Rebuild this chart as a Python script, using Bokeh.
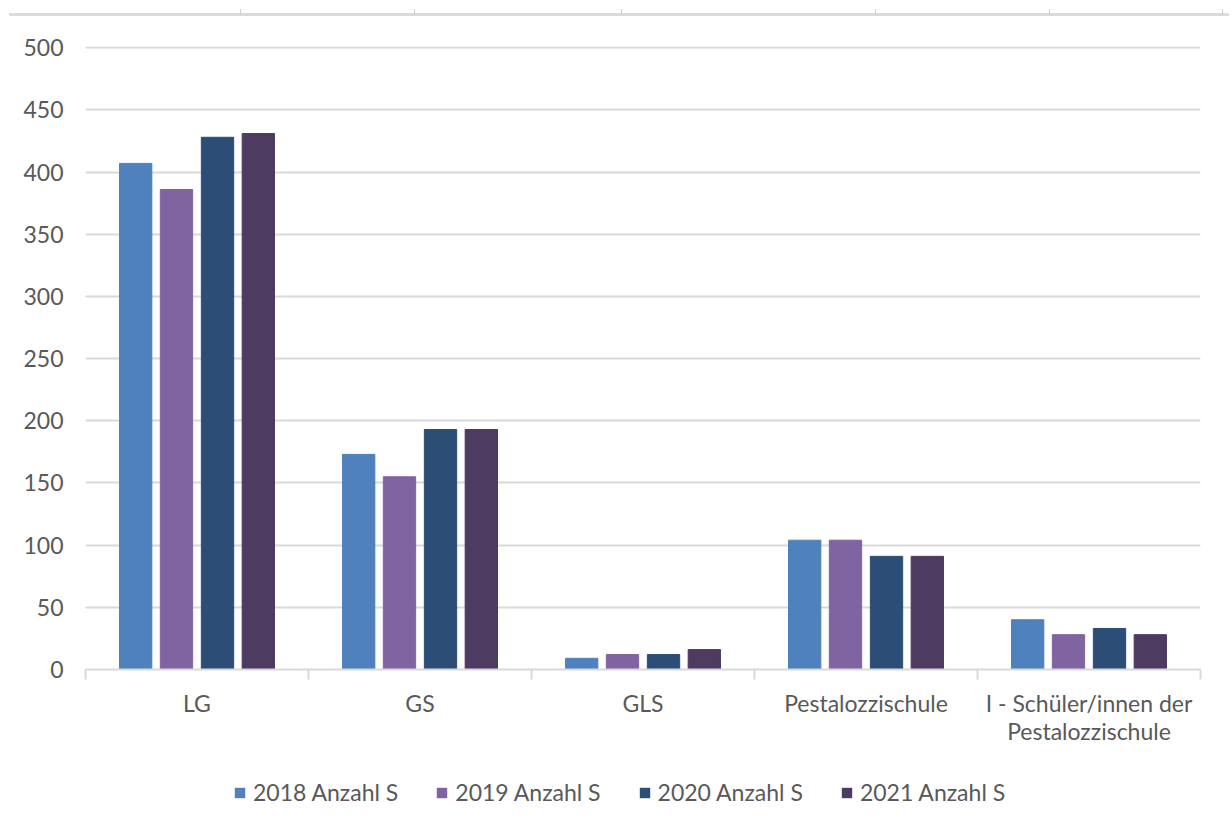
import numpy as np
from bokeh.plotting import figure
from bokeh.models import ColumnDataSource, FixedTicker, Range1d, Legend, LegendItem, Div
from bokeh.layouts import column
from bokeh.embed import file_html
from bokeh.resources import INLINE

categories = ["LG", "GS", "GLS", "Pestalozzischule", "I - Schüler/innen der\nPestalozzischule"]
series = ["2018 Anzahl S", "2019 Anzahl S", "2020 Anzahl S", "2021 Anzahl S"]
v2018 = [407, 173, 9, 104, 40]
v2019 = [386, 155, 12, 104, 28]
v2020 = [428, 193, 12, 91, 33]
v2021 = [431, 193, 16, 91, 28]
values = [v2018, v2019, v2020, v2021]
colors = ["#4F81BD", "#8064A2", "#2C4D75", "#4D3B62"]
y_ticks = [0, 50, 100, 150, 200, 250, 300, 350, 400, 450, 500]

FONT = "Lato"
TXT = "#595959"
GRID = "#D9D9D9"

p = figure(frame_width=1115, frame_height=623, output_backend="svg", toolbar_location=None,
           x_range=Range1d(0, len(categories)), y_range=Range1d(0, 501),
           min_border_left=85, min_border_right=24, min_border_top=28, min_border_bottom=90)
p.outline_line_color = None
p.background_fill_color = "white"
p.border_fill_color = "white"

# separate strip that carries the legend below the chart (its bars lie outside its view)
lg = figure(width=1224, height=62, output_backend="svg", toolbar_location=None,
            x_range=Range1d(-10, -9), y_range=Range1d(1000, 1001),
            x_axis_location=None, y_axis_location=None,
            min_border_left=0, min_border_right=0, min_border_top=0, min_border_bottom=0)
lg.outline_line_color = None
lg.xgrid.visible = False
lg.ygrid.visible = False

offsets = [-0.275, -0.092, 0.092, 0.275]
bar_w = 0.145
centers = np.arange(len(categories)) + 0.5
items = []
for name, vals, col, off in zip(series, values, colors, offsets):
    src = ColumnDataSource(dict(x=centers + off, top=vals))
    p.vbar(x="x", top="top", width=bar_w, bottom=0, source=src,
           fill_color=col, line_color=col, line_width=1)
    r2 = lg.vbar(x="x", top="top", width=bar_w, bottom=0, source=src,
                 fill_color=col, line_color=None)
    items.append(LegendItem(label=name, renderers=[r2]))

# y axis
p.yaxis.ticker = FixedTicker(ticks=y_ticks)
p.yaxis.axis_line_color = None
p.yaxis.major_tick_line_color = None
p.yaxis.minor_tick_line_color = None
p.yaxis.major_tick_out = 0
p.yaxis.major_tick_in = 0
p.yaxis.major_label_standoff = 22
p.yaxis.major_label_text_font = FONT
p.yaxis.major_label_text_font_size = "23px"
p.yaxis.major_label_text_color = TXT

# x axis: labels at centers, ticks at boundaries (minor)
p.xaxis.ticker = FixedTicker(ticks=list(centers), minor_ticks=list(range(len(categories) + 1)))
p.xaxis.major_label_overrides = {float(c): lab for c, lab in zip(centers, categories)}
p.xaxis.axis_line_color = GRID
p.xaxis.axis_line_width = 2
p.xaxis.major_tick_line_color = None
p.xaxis.major_tick_out = 0
p.xaxis.major_tick_in = 0
p.xaxis.minor_tick_line_color = GRID
p.xaxis.minor_tick_line_width = 2
p.xaxis.minor_tick_out = 10
p.xaxis.minor_tick_in = 0
p.xaxis.major_label_standoff = 9
p.xaxis.major_label_text_font = FONT
p.xaxis.major_label_text_font_size = "23px"
p.xaxis.major_label_text_color = TXT
p.xaxis.major_label_text_line_height = 1.0

p.xgrid.grid_line_color = None
p.ygrid.ticker = FixedTicker(ticks=y_ticks)
p.ygrid.grid_line_color = GRID
p.ygrid.grid_line_width = 2

legend = Legend(items=items, orientation="horizontal", location=(148, 15),
                label_text_font=FONT, label_text_font_size="23px", label_text_color=TXT,
                glyph_width=13, glyph_height=13, label_standoff=7, spacing=37,
                border_line_color=None, background_fill_alpha=0, padding=0, margin=0)
lg.add_layout(legend, "center")

ticks_html = "".join(
    f'<div style="position:absolute;left:{x}px;top:0px;width:1px;height:6px;background:#cfcfcf"></div>'
    for x in [235, 409, 616, 870, 1044, 1217])
top_div = Div(width=1216, height=8,
              text='<div style="position:relative;width:1224px;height:8px;">'
                   '<div style="position:absolute;left:4px;right:0px;top:4px;height:3px;background:#dcdcdc"></div>'
                   + ticks_html + '</div>')

layout = column(top_div, p, lg, spacing=0)
open("out.html", "w").write(file_html(layout, INLINE))
